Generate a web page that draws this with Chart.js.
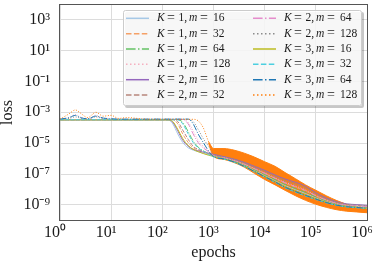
<!DOCTYPE html>
<html><head><meta charset="utf-8">
<script src="https://cdn.jsdelivr.net/npm/chart.js@4/dist/chart.umd.min.js"></script>
<style>html,body{margin:0;padding:0;background:#fff;overflow:hidden}</style>
</head><body>
<canvas id="c" width="383" height="264" style="display:block;width:383px;height:264px"></canvas>
<script>
// ---------------- data ----------------
const epochs = [1,1.5,2,2.5,3.5,5,7,10,14,20,50,100,130,160,200,250,320,400,500,630,800,1000,1600,2500,4000,6300,1e4,1.6e4,2.5e4,4e4,6.3e4,1e5,1.6e5,2.5e5,4e5,6.3e5,1e6];

const lossK1m16 = [3.3e-4,3.3e-4,3.3e-4,3.3e-4,3.3e-4,3.3e-4,3.3e-4,3.3e-4,3.3e-4,3.3e-4,3.3e-4,3.3e-4,3.3e-4,
  1.78e-4,3.98e-5,1.12e-5,5.01e-6,3.55e-6,2.82e-6,2.24e-6,1.78e-6,
  1.45e-6,1.02e-6,6.68e-7,3.59e-7,1.72e-7,8.22e-8,3.80e-8,1.82e-8,9.77e-9,5.50e-9,2.92e-9,1.66e-9,1.10e-9,8.41e-10,7.50e-10,6.68e-10];
const lossK1m32 = [3.4e-4,3.4e-4,3.4e-4,3.4e-4,3.4e-4,3.4e-4,3.4e-4,3.4e-4,3.4e-4,3.4e-4,3.4e-4,3.4e-4,3.4e-4,3.4e-4,
  1.78e-4,3.98e-5,1.12e-5,5.01e-6,3.55e-6,2.69e-6,2.0e-6,
  1.58e-6,1.12e-6,7.50e-7,4.22e-7,2.11e-7,1.06e-7,5.01e-8,2.51e-8,1.41e-8,7.94e-9,3.76e-9,2.0e-9,1.26e-9,9.44e-10,8.41e-10,7.50e-10];
const lossK1m64 = [3.3e-4,3.3e-4,3.3e-4,3.3e-4,3.3e-4,3.3e-4,3.3e-4,3.3e-4,3.3e-4,3.3e-4,3.3e-4,3.3e-4,3.3e-4,3.3e-4,3.3e-4,
  2.24e-4,5.62e-5,1.41e-5,5.62e-6,3.16e-6,2.09e-6,
  1.51e-6,1.07e-6,7.08e-7,3.89e-7,1.91e-7,9.33e-8,4.37e-8,2.14e-8,1.17e-8,6.61e-9,3.31e-9,1.82e-9,1.17e-9,8.91e-10,7.94e-10,7.08e-10];
const lossK1m128 = [3.5e-4,4.5e-4,7.1e-4,5.0e-4,3.6e-4,6.3e-4,4.0e-4,3.8e-4,3.6e-4,3.5e-4,3.5e-4,3.5e-4,3.5e-4,3.5e-4,3.5e-4,3.5e-4,
  2.24e-4,6.31e-5,1.58e-5,6.31e-6,3.16e-6,
  1.66e-6,1.17e-6,7.94e-7,4.57e-7,2.34e-7,1.20e-7,5.75e-8,2.95e-8,1.70e-8,9.55e-9,4.27e-9,2.19e-9,1.35e-9,1.0e-9,8.91e-10,7.94e-10];
const lossK2m16 = [3.2e-4,3.2e-4,3.2e-4,3.2e-4,3.2e-4,3.2e-4,3.2e-4,3.2e-4,3.2e-4,3.2e-4,3.2e-4,3.2e-4,3.2e-4,
  2.24e-4,6.31e-5,1.58e-5,6.31e-6,3.98e-6,3.16e-6,2.63e-6,2.24e-6,
  1.91e-6,1.35e-6,9.44e-7,5.82e-7,3.20e-7,1.76e-7,8.71e-8,4.79e-8,2.95e-8,1.66e-8,6.24e-9,2.88e-9,1.66e-9,1.19e-9,1.06e-9,9.44e-10];
const lossK2m32 = [3.3e-4,3.3e-4,3.3e-4,3.3e-4,3.3e-4,3.3e-4,3.3e-4,3.3e-4,3.3e-4,3.3e-4,3.3e-4,3.3e-4,3.3e-4,3.3e-4,
  2.51e-4,7.08e-5,1.78e-5,6.31e-6,3.98e-6,3.02e-6,2.24e-6,
  1.74e-6,1.23e-6,8.41e-7,4.95e-7,2.60e-7,1.36e-7,6.61e-8,3.47e-8,2.04e-8,1.15e-8,4.84e-9,2.40e-9,1.45e-9,1.06e-9,9.44e-10,8.41e-10];
const lossK2m64 = [3.4e-4,3.4e-4,3.4e-4,3.4e-4,3.4e-4,3.4e-4,3.4e-4,3.4e-4,3.4e-4,3.4e-4,3.4e-4,3.4e-4,3.4e-4,3.4e-4,3.4e-4,3.4e-4,
  1.78e-4,3.98e-5,1.12e-5,5.01e-6,2.82e-6,
  1.62e-6,1.15e-6,7.72e-7,4.39e-7,2.23e-7,1.13e-7,5.37e-8,2.72e-8,1.55e-8,8.71e-9,4.00e-9,2.09e-9,1.30e-9,9.72e-10,8.66e-10,7.72e-10];
const lossK2m128 = [3.5e-4,4.0e-4,5.0e-4,4.2e-4,3.6e-4,5.0e-4,3.8e-4,3.5e-4,3.5e-4,3.5e-4,3.5e-4,3.5e-4,3.5e-4,3.5e-4,3.5e-4,3.5e-4,3.5e-4,
  2.51e-4,7.94e-5,2.0e-5,6.31e-6,
  1.82e-6,1.29e-6,8.91e-7,5.37e-7,2.88e-7,1.55e-7,7.59e-8,4.07e-8,2.45e-8,1.38e-8,5.50e-9,2.63e-9,1.55e-9,1.12e-9,1.0e-9,8.91e-10];
const lossK3m16 = [3.2e-4,3.2e-4,3.2e-4,3.2e-4,3.2e-4,3.2e-4,3.2e-4,3.2e-4,3.2e-4,3.2e-4,3.2e-4,3.2e-4,3.2e-4,
  2.51e-4,7.94e-5,2.0e-5,7.08e-6,3.98e-6,2.82e-6,2.14e-6,1.66e-6,
  1.38e-6,9.77e-7,6.31e-7,3.31e-7,1.55e-7,7.24e-8,3.31e-8,1.55e-8,8.13e-9,4.57e-9,2.57e-9,1.51e-9,1.02e-9,7.94e-10,7.08e-10,6.31e-10];
const lossK3m32 = [3.3e-4,3.3e-4,3.3e-4,3.3e-4,3.3e-4,3.3e-4,3.3e-4,3.3e-4,3.3e-4,3.3e-4,3.3e-4,3.3e-4,3.3e-4,3.3e-4,3.3e-4,
  1.78e-4,3.98e-5,1.12e-5,5.01e-6,3.16e-6,1.91e-6,
  1.32e-6,9.33e-7,5.96e-7,3.05e-7,1.40e-7,6.38e-8,2.88e-8,1.32e-8,6.76e-9,3.80e-9,2.26e-9,1.38e-9,9.55e-10,7.50e-10,6.68e-10,5.96e-10];
const lossK3m64 = [3.6e-4,4.5e-4,6.3e-4,4.5e-4,3.8e-4,5.6e-4,4.2e-4,3.8e-4,3.6e-4,3.6e-4,3.6e-4,3.6e-4,3.6e-4,3.6e-4,3.6e-4,3.6e-4,3.6e-4,
  1.78e-4,3.98e-5,1.12e-5,3.16e-6,
  1.35e-6,9.55e-7,6.17e-7,3.16e-7,1.48e-7,6.76e-8,3.09e-8,1.41e-8,7.41e-9,4.17e-9,2.40e-9,1.45e-9,9.89e-10,7.76e-10,6.92e-10,6.17e-10];
const lossK3m128 = [3.55e-4,7.9e-4,1.41e-3,8.9e-4,4.5e-4,1.0e-3,5.6e-4,6.3e-4,4.0e-4,4.5e-4,3.55e-4,3.5e-4,3.5e-4,3.5e-4,3.5e-4,3.5e-4,3.5e-4,3.5e-4,
  2.82e-4,1.0e-4,1.26e-5,3.16e-6,
  null,null,null,null,null,null,null,null,null,null,null,null,null,null,null];
// K=3, m=128 is very noisy after ~1000 epochs: its spread is drawn as a band
const noiseLowK3m128 = [null,null,null,null,null,null,null,null,null,null,null,null,null,null,null,null,null,null,null,null,
  1.0e-5,1.41e-6,8.91e-7,5.62e-7,2.82e-7,1.12e-7,4.47e-8,2.0e-8,8.91e-9,3.98e-9,2.0e-9,1.12e-9,7.08e-10,5.01e-10,3.98e-10,3.55e-10,3.16e-10];
const noiseHighK3m128 = [null,null,null,null,null,null,null,null,null,null,null,null,null,null,null,null,null,null,null,null,
  1.26e-5,4.47e-6,4.47e-6,3.55e-6,2.24e-6,1.26e-6,6.31e-7,3.16e-7,1.26e-7,5.01e-8,2.0e-8,8.91e-9,3.98e-9,2.0e-9,1.12e-9,7.08e-10,5.62e-10];

const Kvalues = [1,1,1,1,2,2,2,2,3,3,3,3];
const mvalues = [16,32,64,128,16,32,64,128,16,32,64,128];
const seriesLoss = [lossK1m16,lossK1m32,lossK1m64,lossK1m128,lossK2m16,lossK2m32,lossK2m64,lossK2m128,lossK3m16,lossK3m32,lossK3m64,lossK3m128];
const xTickValues = [1,10,100,1e3,1e4,1e5,1e6];
const yTickValues = [1e-9,1e-7,1e-5,1e-3,1e-1,1e1,1e3];

// ---------------- styles ----------------
const colors = ['#a6c8e6','#f5a066','#66c266','#f5b0c0','#9467bd','#b8867c','#e58ccc','#8c8c8c','#bcbd22','#4ccfe0','#1f77b4','#ff7f0e'];
const styleOfM = {16:'solid',32:'dashed',64:'dashdot',128:'dotted'};
const dashChart = {solid:[],dashed:[3.7,1.6],dashdot:[6.4,1.6,1,1.6],dotted:[1,1.65]};
const dashLegend = {solid:[],dashed:[5.5,2.4],dashdot:[9.6,2.4,1.5,2.4],dotted:[1.5,2.5]};
const SERIF = '"Liberation Serif","Times New Roman",serif';

const supMap = {'-':'\u207B','0':'\u2070','1':'\u00B9','2':'\u00B2','3':'\u00B3','4':'\u2074','5':'\u2075','6':'\u2076','7':'\u2077','8':'\u2078','9':'\u2079'};
function powLabel(v){const e=Math.round(Math.log10(v));return '10'+String(e).split('').map(c=>supMap[c]).join('');}

const datasets = seriesLoss.map((arr,i)=>({
  label:`K = ${Kvalues[i]}, m = ${mvalues[i]}`,
  data: epochs.map((e,j)=>({x:e,y:arr[j]})),
  borderColor: colors[i], backgroundColor: colors[i],
  borderWidth: 1, borderDash: dashChart[styleOfM[mvalues[i]]],
  pointRadius:0, fill:false, cubicInterpolationMode:'monotone',
  order: 12-i, styleName: styleOfM[mvalues[i]]
}));
datasets.push({label:'_noiseLow', data: epochs.map((e,j)=>({x:e,y:noiseLowK3m128[j]})),
  borderColor:'#ff7f0e', backgroundColor:'#ff7f0e', borderWidth:1, pointRadius:0, fill:false, order:50, cubicInterpolationMode:'monotone'});
datasets.push({label:'_noiseHigh', data: epochs.map((e,j)=>({x:e,y:noiseHighK3m128[j]})),
  borderColor:'#ff7f0e', backgroundColor:'#ff7f0e', borderWidth:1, pointRadius:0, fill:'-1', order:50, cubicInterpolationMode:'monotone'});

const framePlugin = {
  id:'frameAndLegend',
  afterDraw(chart){
    const ctx = chart.ctx, a = chart.chartArea;
    ctx.save();
    ctx.strokeStyle='#555'; ctx.lineWidth=1;
    ctx.strokeRect(Math.round(a.left)-0.5, Math.round(a.top)-0.5, Math.round(a.right-a.left)+1, Math.round(a.bottom-a.top)+1);
    // legend
    const x0=123, y0=10, w=239, h=96, r=2;
    function rr(x,y,w,h){ctx.beginPath();ctx.moveTo(x+r,y);ctx.lineTo(x+w-r,y);ctx.quadraticCurveTo(x+w,y,x+w,y+r);ctx.lineTo(x+w,y+h-r);ctx.quadraticCurveTo(x+w,y+h,x+w-r,y+h);ctx.lineTo(x+r,y+h);ctx.quadraticCurveTo(x,y+h,x,y+h-r);ctx.lineTo(x,y+r);ctx.quadraticCurveTo(x,y,x+r,y);ctx.closePath();}
    ctx.fillStyle='rgba(0,0,0,0.22)'; rr(x0+2,y0+2,w,h); ctx.fill();
    ctx.fillStyle='rgba(255,255,255,0.85)'; rr(x0,y0,w,h); ctx.fill();
    ctx.strokeStyle='#cccccc'; ctx.lineWidth=1; rr(x0+0.5,y0+0.5,w-1,h-1); ctx.stroke();
    ctx.textBaseline='middle'; ctx.fillStyle='#1a1a1a';
    for(let i=0;i<12;i++){
      const ds = chart.data.datasets[i];
      const col=Math.floor(i/6), row=i%6;
      const y = 18.3 + row*15.35;
      const sx = col?253:126, tx = col?284:157;
      ctx.strokeStyle=ds.borderColor; ctx.lineWidth=1.5; ctx.setLineDash(dashLegend[ds.styleName]);
      ctx.beginPath(); ctx.moveTo(sx,y); ctx.lineTo(sx+23,y); ctx.stroke(); ctx.setLineDash([]);
      const it='italic 11.5px '+SERIF, up='11.5px '+SERIF, eq='14px '+SERIF;
      ctx.textAlign='left';
      ctx.font=it; ctx.fillText('K',tx,y);
      ctx.font=up; ctx.fillText(String(Kvalues[i])+',',tx+21.5,y);
      ctx.font=it; ctx.fillText('m',tx+32,y);
      ctx.font=up; ctx.fillText(String(mvalues[i]),tx+56,y);
      ctx.font=eq; ctx.textAlign='center';
      ctx.fillText('=',tx+14,y); ctx.fillText('=',tx+47,y);
    }
    ctx.restore();
  }
};

new Chart(document.getElementById('c'),{
  type:'line',
  data:{datasets},
  plugins:[framePlugin],
  options:{
    responsive:false, animation:false, devicePixelRatio:1,
    layout:{padding:{top:5,right:16,left:0,bottom:0}},
    plugins:{legend:{display:false},tooltip:{enabled:false}},
    scales:{
      x:{type:'logarithmic',min:1,max:1e6,
        afterBuildTicks:s=>{s.ticks=xTickValues.map(v=>({value:v}));},
        afterFit:s=>{s.height=44;s.paddingLeft=0;s.paddingRight=0;},
        ticks:{callback:v=>powLabel(v),maxRotation:0,minRotation:0,autoSkip:false,padding:3,labelOffset:-5,color:'#1a1a1a',font:{family:SERIF,size:16}},
        grid:{color:'#dcdcdc',lineWidth:1,drawTicks:false},
        border:{display:false},
        title:{display:true,text:'epochs',color:'#1a1a1a',font:{family:SERIF,size:16},padding:{top:0,bottom:2}}
      },
      y:{type:'logarithmic',min:1.07e-10,max:8.7e3,
        afterBuildTicks:s=>{s.ticks=yTickValues.map(v=>({value:v}));},
        afterFit:s=>{s.width=60;s.paddingTop=0;s.paddingBottom=0;},
        ticks:{callback:v=>powLabel(v),padding:10,color:'#1a1a1a',font:{family:SERIF,size:16}},
        grid:{color:'#dcdcdc',lineWidth:1,drawTicks:false},
        border:{display:false},
        title:{display:true,text:'loss',color:'#1a1a1a',font:{family:SERIF,size:16,lineHeight:1},padding:{top:0,bottom:0}}
      }
    }
  }
});
</script>
</body></html>
